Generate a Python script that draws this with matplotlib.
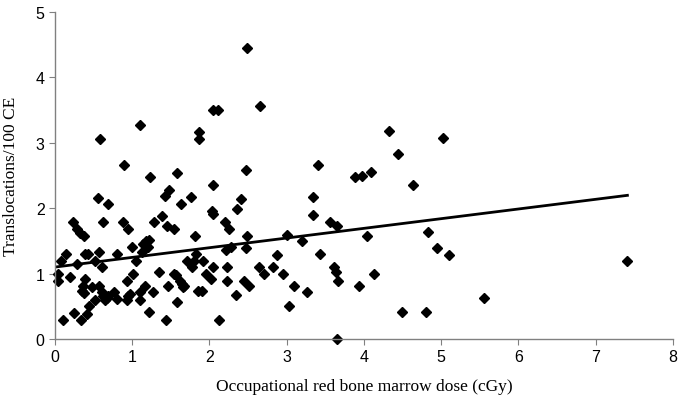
import matplotlib.pyplot as plt
import numpy as np

# dose (cGy) and translocations per 100 CE
dose = [0.58, 1.10, 1.86, 1.86, 0.89, 1.23, 1.58, 0.56, 0.69, 1.47,
        1.43, 1.76, 1.63, 0.23, 0.29, 0.33, 0.38, 0.62, 0.88, 0.94,
        1.28, 1.39, 1.45, 1.54, 1.81, 1.14, 1.18, 1.22, 1.20, 1.00,
        0.14, 0.08, 0.28, 0.39, 0.43, 0.52, 0.57, 0.61, 0.80, 1.05,
        1.13, 1.71, 1.80, 1.77, 1.83, 0.04, 0.04, 0.20, 0.39, 0.36,
        0.35, 0.37, 0.48, 0.57, 0.61, 0.62, 0.65, 0.67, 0.69, 0.52,
        0.76, 0.80, 0.93, 1.01, 0.94, 0.97, 0.93, 1.10, 1.10, 1.16,
        1.27, 1.22, 1.35, 1.46, 1.54, 1.57, 1.62, 1.64, 1.66, 1.67,
        1.58, 1.85, 0.44, 0.41, 0.25, 0.10, 0.34, 1.44, 2.47, 3.40,
        2.04, 2.41, 2.35, 2.03, 2.04, 2.20, 2.25, 3.34, 3.34, 3.56,
        3.65, 2.48, 3.00, 3.20, 2.28, 2.47, 2.21, 1.91, 1.95, 2.04,
        2.02, 2.23, 2.23, 1.90, 2.34, 2.45, 2.51, 2.64, 2.70, 2.82,
        2.88, 2.95, 3.09, 3.26, 3.03, 2.12, 3.43, 3.61, 3.64, 3.66,
        3.65, 4.32, 5.02, 4.44, 3.88, 3.97, 4.09, 4.64, 4.04, 4.83,
        4.94, 5.10, 4.13, 3.93, 5.56, 4.49, 4.80, 7.41, 2.48, 2.04,
        2.11, 2.66]
transloc = [3.06, 3.27, 3.17, 3.06, 2.66, 2.47, 2.54, 2.16, 2.06, 2.28,
            2.19, 2.17, 2.06, 1.79, 1.68, 1.62, 1.58, 1.79, 1.79, 1.68,
            1.79, 1.88, 1.73, 1.68, 1.58, 1.45, 1.50, 1.52, 1.40, 1.40,
            1.30, 1.19, 1.15, 1.30, 1.30, 1.19, 1.33, 1.10, 1.30, 1.19,
            1.33, 1.19, 1.19, 1.10, 1.30, 0.99, 0.89, 0.95, 0.92, 0.81,
            0.73, 0.70, 0.79, 0.81, 0.72, 0.66, 0.60, 0.63, 0.66, 0.60,
            0.72, 0.61, 0.89, 0.99, 0.66, 0.69, 0.60, 0.72, 0.60, 0.81,
            0.72, 0.41, 1.02, 0.81, 0.99, 0.98, 0.89, 0.84, 0.80, 0.81,
            0.57, 0.73, 0.50, 0.38, 0.40, 0.29, 0.29, 0.29, 2.58, 2.66,
            2.36, 2.14, 1.99, 1.96, 1.91, 1.79, 1.68, 2.17, 1.90, 1.79,
            1.73, 1.58, 1.59, 1.50, 1.41, 1.39, 1.36, 1.19, 0.99, 1.10,
            0.92, 1.10, 0.89, 0.73, 0.67, 0.89, 0.81, 1.10, 0.99, 1.10,
            1.28, 0.99, 0.81, 0.72, 0.50, 0.29, 1.30, 1.10, 1.02, 0.89,
            0.00, 3.18, 3.07, 2.83, 2.48, 2.49, 2.55, 2.35, 1.58, 1.63,
            1.39, 1.28, 0.99, 0.81, 0.63, 0.41, 0.41, 1.19, 4.45, 3.50,
            3.50, 3.56]

# trend line as drawn in the figure
fit_intercept = 1.10
fit_slope = 0.148
fit_x = [0.0, 7.41]

fig = plt.figure(figsize=(6.78, 4.02), dpi=100)
ax = fig.add_axes([0.0811, 0.1542, 0.9115, 0.8135])

ax.plot(dose, transloc, linestyle='none', marker='D', ms=4.6, color='black', clip_on=False)
fx = np.array(fit_x)
ax.plot(fx, fit_intercept + fit_slope * fx, color='black', lw=2)

ax.set_xlim(0, 8)
ax.set_ylim(0, 5)
ax.set_xticks(range(0, 9))
ax.set_yticks(range(0, 6))
for s in ['top', 'right']:
    ax.spines[s].set_visible(False)
for s in ['left', 'bottom']:
    ax.spines[s].set_color('#808080')
    ax.spines[s].set_linewidth(1)
ax.tick_params(colors='#808080', labelcolor='black', length=4, labelsize=11.5)
for lab in ax.get_xticklabels() + ax.get_yticklabels():
    lab.set_family('Liberation Sans')

ax.set_xlabel('Occupational red bone marrow dose (cGy)', family='Liberation Serif', fontsize=12.5, labelpad=10)
ax.set_ylabel('Translocations/100 CE', family='Liberation Serif', fontsize=12.5, labelpad=12)

plt.savefig('out.png')
